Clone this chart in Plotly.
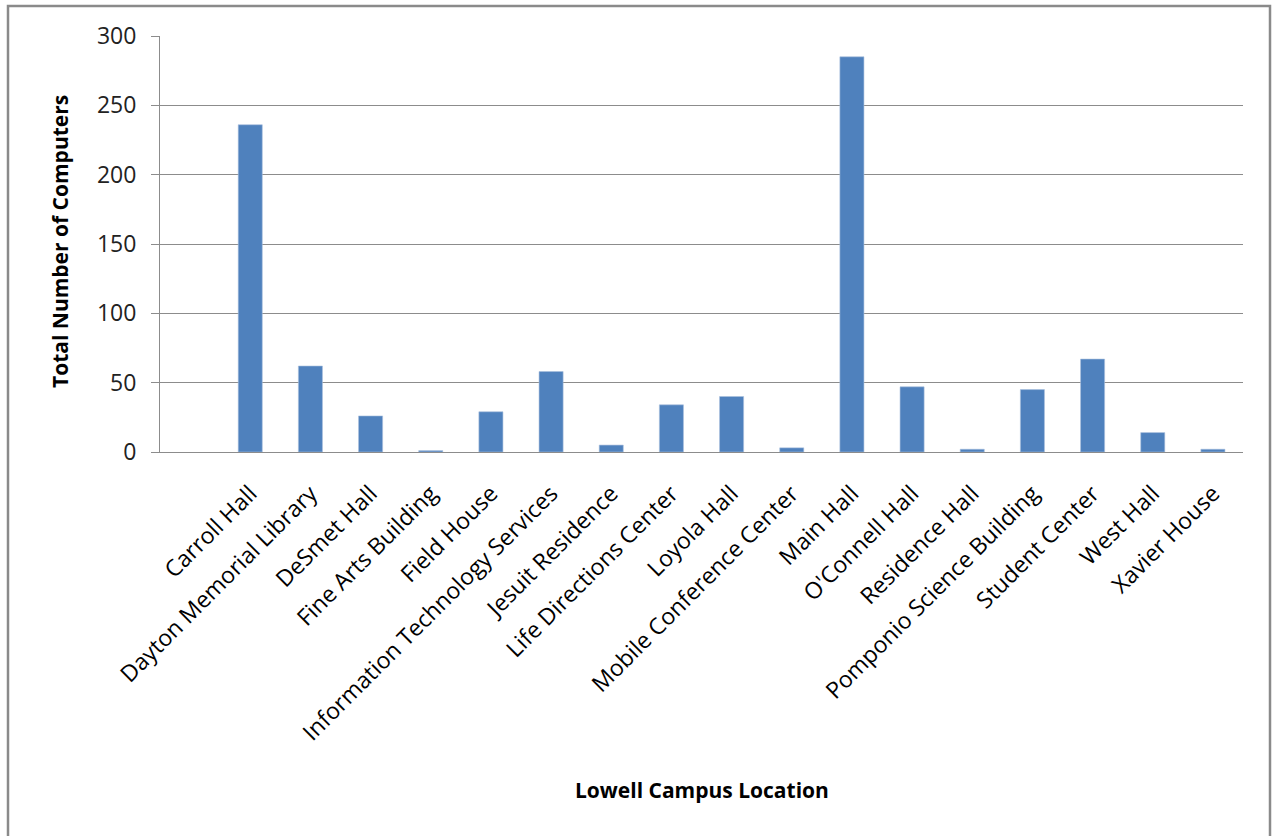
import plotly.graph_objects as go

categories = [" ", "Carroll Hall", "Dayton Memorial Library", "DeSmet Hall", "Fine Arts Building",
              "Field House", "Information Technology Services", "Jesuit Residence",
              "Life Directions Center", "Loyola Hall", "Mobile Conference Center", "Main Hall",
              "O'Connell Hall", "Residence Hall", "Pomponio Science Building", "Student Center",
              "West Hall", "Xavier House"]
computers = [None, 236, 62, 26, 1, 29, 58, 5, 34, 40, 3, 285, 47, 2, 45, 67, 14, 2]
y_ticks = [0, 50, 100, 150, 200, 250, 300]

W, H = 1279, 836
L, R, T, B = 160, 36, 36, 384
pw, ph = W - L - R, H - T - B

def px_x(p):
    return (p - L) / pw

def px_y(p):
    return (H - B - p) / ph

fig = go.Figure(go.Bar(
    x=categories, y=computers, width=0.4,
    marker=dict(color="#4F81BD", line=dict(color="#A9C0DE", width=0.6)),
))

fig.update_layout(
    width=W, height=H,
    margin=dict(l=L, r=R, t=T, b=B, autoexpand=False),
    paper_bgcolor="white", plot_bgcolor="white",
    showlegend=False,
    font=dict(family="Open Sans", color="black"),
    xaxis=dict(
        type="category", categoryorder="array", categoryarray=categories,
        tickangle=-45, tickfont=dict(size=23, family="Open Sans", color="black"),
        showgrid=False, showline=True, linecolor="#8c8c8c", linewidth=1,
        ticks="", ticklabelstandoff=18, range=[-0.5, len(categories) - 0.5],
    ),
    yaxis=dict(
        range=[0, 300], tickvals=y_ticks,
        tickfont=dict(size=23, family="Open Sans", color="#222"),
        showgrid=True, gridcolor="#8c8c8c", gridwidth=1,
        showline=True, linecolor="#8c8c8c", linewidth=1,
        ticks="outside", ticklen=8, tickcolor="#8c8c8c", ticklabelstandoff=10,
        zeroline=False,
    ),
    annotations=[
        dict(text="<b>Lowell Campus Location</b>", xref="paper", yref="paper",
             x=0.5, y=px_y(790), xanchor="center", yanchor="middle",
             showarrow=False, font=dict(size=21, family="Open Sans", color="black")),
        dict(text="<b>Total Number of Computers</b>", xref="paper", yref="paper",
             x=px_x(60), y=px_y(242), xanchor="center", yanchor="middle", textangle=-90,
             showarrow=False, font=dict(size=21, family="Open Sans", color="black")),
    ],
    shapes=[
        dict(type="rect", xref="paper", yref="paper",
             x0=px_x(8), x1=px_x(1270), y0=px_y(6), y1=px_y(845),
             line=dict(color="#8a8a8a", width=2.5), fillcolor="rgba(0,0,0,0)", layer="below"),
    ],
)

fig.write_html("out.html", config={"displayModeBar": False},
               post_script="document.body.style.margin='0';")
